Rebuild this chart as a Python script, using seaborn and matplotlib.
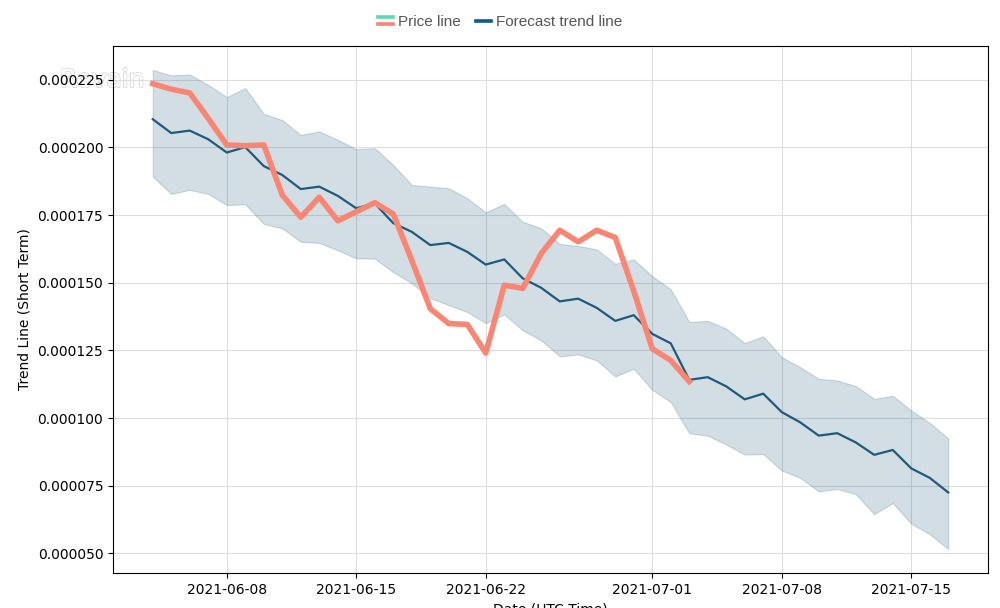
import numpy as np
import pandas as pd
import matplotlib
matplotlib.use("Agg")
import matplotlib.pyplot as plt
import matplotlib.dates as mdates
import matplotlib.patheffects as pe
from matplotlib.ticker import FormatStrFormatter
from matplotlib.legend_handler import HandlerBase
from matplotlib.lines import Line2D
import seaborn as sns

# daily values, 2021-06-04 .. 2021-07-17 (units of 1e-6)
dates = pd.date_range("2021-06-04", "2021-07-17", freq="D")

forecast = [210.4, 205.3, 206.2, 203.0, 198.1, 200.1, 193.1, 189.8, 184.6, 185.5,
            182.1, 177.5, 179.3, 172.0, 168.8, 163.9, 164.7, 161.4, 156.7, 158.6,
            151.6, 148.1, 143.1, 144.1, 140.7, 135.9, 138.0, 131.1, 127.6, 114.1,
            115.1, 111.7, 106.9, 109.0, 102.2, 98.4, 93.5, 94.4, 91.0, 86.4,
            88.2, 81.4, 77.9, 72.5]

upper = [228.6, 226.6, 226.9, 223.1, 218.6, 221.9, 212.4, 210.1, 204.6, 205.9,
         202.8, 199.3, 199.7, 193.5, 186.1, 185.5, 184.9, 181.2, 176.0, 179.1,
         172.5, 170.1, 164.3, 163.6, 162.3, 157.0, 158.6, 152.4, 147.6, 135.5,
         135.9, 133.0, 127.7, 130.2, 122.5, 118.8, 114.5, 113.9, 111.8, 107.1,
         108.2, 102.8, 98.2, 92.5]

lower = [189.2, 182.8, 184.3, 182.8, 178.7, 179.0, 171.7, 170.1, 165.1, 164.7,
         162.0, 159.0, 158.9, 153.9, 149.8, 144.3, 141.7, 139.2, 135.0, 138.3,
         132.4, 128.7, 122.8, 123.5, 121.3, 115.4, 118.2, 110.4, 105.9, 94.4,
         93.5, 90.2, 86.5, 86.7, 80.6, 77.9, 72.9, 73.8, 71.9, 64.5,
         68.6, 61.0, 57.1, 51.6]

price = [223.5, 221.5, 220.1, 210.7, 200.9, 200.6, 200.9, 182.4, 174.2, 181.6,
         172.9, 176.2, 179.6, 175.4, 158.3, 140.4, 134.9, 134.6, 124.0, 149.1,
         147.9, 160.8, 169.4, 165.1, 169.4, 166.7, 146.9, 125.6, 121.3, 113.5]

df_fc = pd.DataFrame({"date": dates,
                      "forecast": np.array(forecast) * 1e-6,
                      "upper": np.array(upper) * 1e-6,
                      "lower": np.array(lower) * 1e-6})
df_price = pd.DataFrame({"date": dates[:len(price)], "price": np.array(price) * 1e-6})

blue = "#1f5a7c"
salmon = "#fa8572"
teal = "#5fd8b2"


class TwoLineHandler(HandlerBase):
    # stacked teal / salmon handle for the price line
    def create_artists(self, legend, orig_handle, xdescent, ydescent,
                       width, height, fontsize, trans):
        y1 = height * 0.8 - ydescent
        y2 = height * 0.2 - ydescent
        l1 = Line2D([-xdescent, width - xdescent], [y1, y1], color=teal, lw=2.6, transform=trans)
        l2 = Line2D([-xdescent, width - xdescent], [y2, y2], color=salmon, lw=2.6, transform=trans)
        return [l1, l2]


fig = plt.figure(figsize=(10, 6.08), dpi=100)
ax = fig.add_axes([0.113, 0.0576, 0.875, 0.8667])
ax.patch.set_alpha(0)  # let the watermark show behind the plot

ax.fill_between(df_fc["date"], df_fc["lower"], df_fc["upper"],
                facecolor=blue, alpha=0.2, edgecolor=blue, linewidth=0.8)
sns.lineplot(data=df_fc, x="date", y="forecast", ax=ax, color=blue, linewidth=1.6)
sns.lineplot(data=df_price, x="date", y="price", ax=ax, color=salmon, linewidth=4)

ax.grid(True, color="#dddddd", linewidth=0.8)
ax.set_axisbelow(True)
ax.xaxis.set_major_locator(mdates.DayLocator(bymonthday=[1, 8, 15, 22]))
ax.xaxis.set_major_formatter(mdates.DateFormatter("%Y-%m-%d"))
ax.yaxis.set_major_formatter(FormatStrFormatter("%.6f"))
ax.set_xlabel("Date (UTC Time)")
ax.set_ylabel("Trend Line (Short Term)")

# faint outlined watermark, behind the axes
fig.text(0.06, 0.857, "Revain", fontsize=18, color="white", zorder=-1,
         path_effects=[pe.withStroke(linewidth=1.2, foreground="#d4d4d4"), pe.Normal()])

h_price = Line2D([], [], color=salmon)
h_fc = Line2D([], [], color="#0e5a8a", lw=2.6)
leg = fig.legend([h_price, h_fc], ["Price line", "Forecast trend line"],
                 handler_map={h_price: TwoLineHandler()},
                 loc="upper center", bbox_to_anchor=(0.5, 0.998), ncol=2, frameon=False,
                 prop={"family": "Liberation Sans", "size": 11},
                 handlelength=1.0, handletextpad=0.3, columnspacing=1.0)
for t in leg.get_texts():
    t.set_color("#555555")

fig.savefig("out.png", dpi=100)
